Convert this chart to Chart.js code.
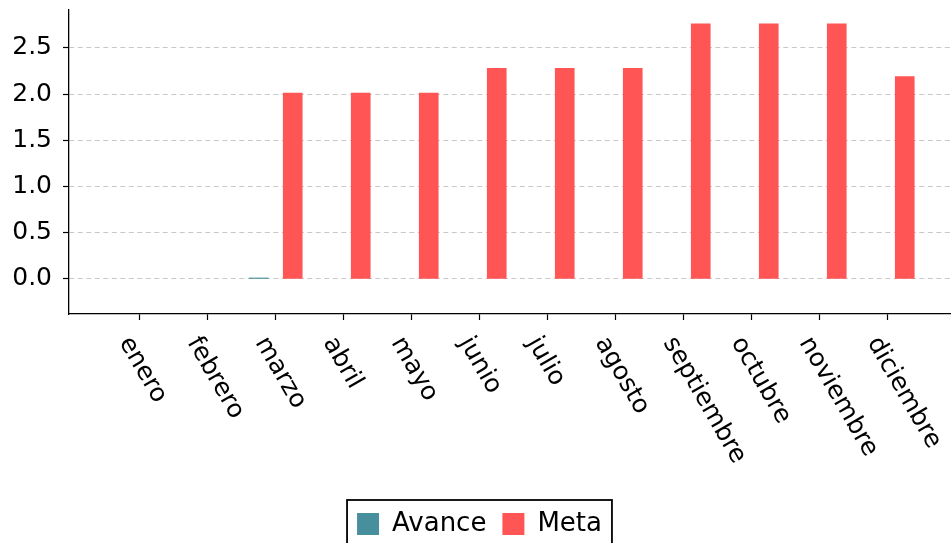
<!DOCTYPE html>
<html>
<head>
<meta charset="utf-8">
<script src="https://cdn.jsdelivr.net/npm/chart.js@4/dist/chart.umd.min.js"></script>
<style>
html,body{margin:0;padding:0;background:#fff;}
#wrap{width:951px;height:543px;position:relative;}
</style>
</head>
<body>
<div id="wrap"><canvas id="c" width="951" height="543"></canvas></div>
<script>
const categories = ["enero","febrero","marzo","abril","mayo","junio","julio","agosto","septiembre","octubre","noviembre","diciembre"];
const avance = [null, null, 0.01, null, null, null, null, null, null, null, null, null];
const meta = [null, null, 2.01, 2.01, 2.01, 2.28, 2.28, 2.28, 2.76, 2.76, 2.76, 2.19];
const yTicks = [0, 0.5, 1.0, 1.5, 2.0, 2.5];

const FONT = "'DejaVu Sans', sans-serif";
const FS = 25;
const LFS = 26;
const TEAL = '#478f9c';
const RED = '#ff5555';
const PAD_BOTTOM = -4;
const LEG_PAD = 16;
const LEG_SHIFT = 4;

const toPoints = (arr, off) => arr.map((v, i) => v === null ? null : {x: i + off, y: v}).filter(p => p);

const legendShift = {
  id: 'legendShift',
  beforeDraw(chart) {
    const lg = chart.legend;
    if (!lg || lg._shifted) return;
    lg.left += LEG_SHIFT; lg.right += LEG_SHIFT;
    (lg.legendHitBoxes || []).forEach(b => { b.left += LEG_SHIFT; });
    lg._shifted = true;
  }
};

const rotLabels = {
  id: 'rotLabels',
  afterDraw(chart) {
    const ctx = chart.ctx;
    const xs = chart.scales.x;
    ctx.save();
    ctx.font = FS + "px " + FONT;
    ctx.fillStyle = '#000';
    ctx.textAlign = 'left';
    ctx.textBaseline = 'middle';
    const a = Math.PI / 3;
    const h = FS * 0.95;
    categories.forEach((lab, i) => {
      const x = xs.getPixelForValue(i);
      const top = xs.top + 19;
      ctx.save();
      ctx.translate(x - 15, top + h / 4);
      ctx.rotate(a);
      ctx.fillText(lab, 0, 0);
      ctx.restore();
    });
    // legend frame
    const lg = chart.legend;
    if (lg && lg.legendHitBoxes && lg.legendHitBoxes.length) {
      const hb = lg.legendHitBoxes;
      const l = hb[0].left - 10;
      const r = hb[hb.length - 1].left + hb[hb.length - 1].width + 10;
      const t = hb[0].top - 11;
      ctx.strokeStyle = '#000';
      ctx.lineWidth = 1.8;
      ctx.strokeRect(l, t, r - l, 80);
    }
    ctx.restore();
  }
};

function legendHeight() {
  return Math.max(LFS, 22) + LEG_PAD + 10;
}

new Chart(document.getElementById('c'), {
  type: 'bar',
  data: {
    datasets: [
      {label: 'Avance', data: toPoints(avance, -0.25), backgroundColor: TEAL, borderWidth: 0, barThickness: 19, grouped: false, minBarLength: 1},
      {label: 'Meta', data: toPoints(meta, 0.25), backgroundColor: RED, borderWidth: 0, barThickness: 19, grouped: false}
    ]
  },
  options: {
    responsive: false,
    animation: false,
    layout: {padding: {top: 10, right: 0, left: 0, bottom: PAD_BOTTOM}},
    plugins: {
      legend: {
        position: 'bottom',
        labels: {
          boxWidth: 22, boxHeight: 22, padding: LEG_PAD,
          color: '#000',
          font: {family: FONT, size: LFS}
        }
      },
      tooltip: {enabled: false}
    },
    scales: {
      x: {
        type: 'linear',
        offset: false,
        min: -1.04, max: 11.93,
        afterBuildTicks(s) { s.ticks = categories.map((c, i) => ({value: i})); },
        afterFit(s) { s.height = 543 - PAD_BOTTOM - 314 - legendHeight(); s.paddingLeft = 0; s.paddingRight = 0; },
        ticks: {display: false},
        grid: {offset: false, drawOnChartArea: false, drawTicks: true, tickLength: 6, tickColor: '#000', tickWidth: 1.2},
        border: {display: true, color: '#000', width: 1.3}
      },
      y: {
        type: 'linear',
        min: -0.379, max: 2.91,
        afterBuildTicks(s) { s.ticks = yTicks.map(v => ({value: v})); },
        afterFit(s) { s.width = 69; s.paddingTop = 0; s.paddingBottom = 0; },
        ticks: {
          color: '#000', padding: 11,
          font: {family: FONT, size: FS},
          callback: v => Number(v).toFixed(1)
        },
        grid: {color: '#c8c8c8', lineWidth: 1, drawTicks: true, tickLength: 6, tickColor: '#000', tickWidth: 1.2},
        border: {display: true, color: '#000', width: 1.3, dash: [5, 3.5]}
      }
    }
  },
  plugins: [legendShift, rotLabels]
});
</script>
</body>
</html>
